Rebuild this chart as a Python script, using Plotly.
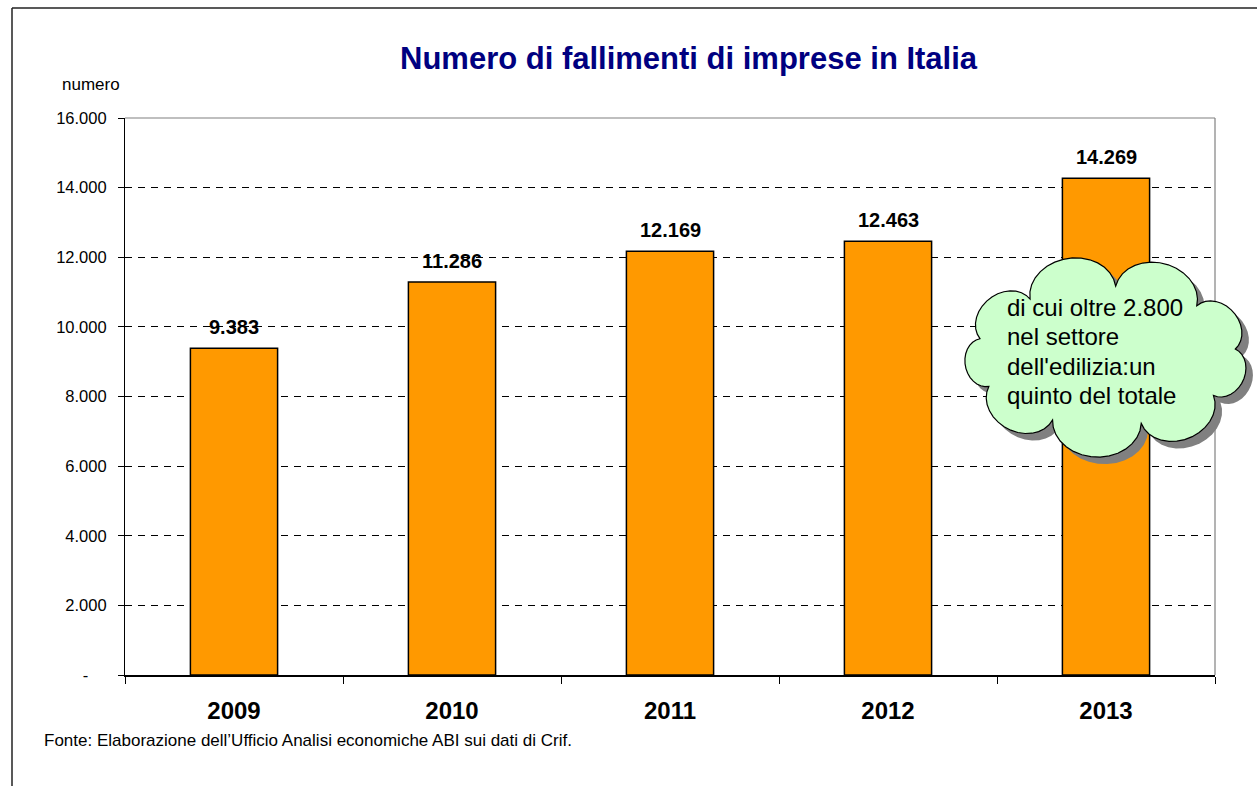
import numpy as np
import plotly.graph_objects as go

# ---- data ----
years = ["2009", "2010", "2011", "2012", "2013"]
fallimenti = [9383, 11286, 12169, 12463, 14269]
value_labels = ["9.383", "11.286", "12.169", "12.463", "14.269"]
tick_vals = [0, 2000, 4000, 6000, 8000, 10000, 12000, 14000, 16000]
tick_text = ["-\u00a0\u00a0\u00a0\u00a0", "2.000", "4.000", "6.000", "8.000",
             "10.000", "12.000", "14.000", "16.000"]
title_text = "Numero di fallimenti di imprese in Italia"
y_title = "numero"
source_text = "Fonte: Elaborazione dell\u2019Ufficio Analisi economiche ABI sui dati di Crif."
cloud_lines = ["di cui oltre 2.800", "nel settore", "dell'edilizia:un", "quinto del totale"]

W, H = 1257, 786
L, R, T, B = 125, 1215, 118, 675
FONT = "Liberation Sans, Arial, sans-serif"


def px2paper(x, y):
    return (x - L) / (R - L), (B - y) / (B - T)


fig = go.Figure()
fig.add_trace(go.Bar(
    x=years, y=fallimenti,
    text=["<b>%s</b>" % s for s in value_labels], textposition="none",
    marker=dict(color="#FF9900", line=dict(color="#000000", width=1.5)),
    width=0.4, hoverinfo="x+y",
))

annotations = []
for i, (v, lab) in enumerate(zip(fallimenti, value_labels)):
    annotations.append(dict(x=i, y=v, xref="x", yref="y", text="<b>%s</b>" % lab,
                            showarrow=False, yanchor="bottom", yshift=8,
                            font=dict(family=FONT, size=20, color="#000000")))

annotations.append(dict(x=px2paper(689, 0)[0], y=px2paper(0, 58)[1], xref="paper", yref="paper",
                        text="<b>%s</b>" % title_text, showarrow=False, xanchor="center", yanchor="middle",
                        font=dict(family=FONT, size=31, color="#000080")))
annotations.append(dict(x=px2paper(60, 0)[0], y=px2paper(0, 84)[1], xref="paper", yref="paper",
                        text=y_title, showarrow=False, xanchor="left", yanchor="middle",
                        font=dict(family=FONT, size=17, color="#000000")))
annotations.append(dict(x=px2paper(42, 0)[0], y=px2paper(0, 740)[1], xref="paper", yref="paper",
                        text=source_text, showarrow=False, xanchor="left", yanchor="middle",
                        font=dict(family=FONT, size=17, color="#000000")))

# ---- cloud callout shape ----
cx, cy = 1106, 356
rx, ry = 130, 70
N = 9
angles = np.linspace(0, 2 * np.pi, N + 1) + 0.1
pts = [(cx + rx * np.cos(a), cy - ry * np.sin(a)) for a in angles]


def cloud_path(dx=0.0, dy=0.0):
    segs = []
    for i in range(N):
        ax_, ay_ = pts[i]
        bx_, by_ = pts[i + 1]
        A = np.array([ax_, -ay_])
        Bp = np.array([bx_, -by_])
        M = (A + Bp) / 2
        d = Bp - A
        c = np.linalg.norm(d)
        n = np.array([d[1], -d[0]]) / c
        for th in np.linspace(0, np.pi, 16):
            p = M + (A - M) * np.cos(th) + n * (c / 2) * 0.8 * np.sin(th)
            segs.append((p[0] + dx, -p[1] + dy))
    s = ""
    for k, (x, y) in enumerate(segs):
        X, Y = px2paper(x, y)
        s += ("M" if k == 0 else "L") + "%.5f,%.5f " % (X, Y)
    return s + "Z"


shapes = []
fx0, fy0 = px2paper(12, 8)
fx1, fy1 = px2paper(W + 5, H + 5)
shapes.append(dict(type="line", xref="paper", yref="paper", x0=fx0, y0=fy0, x1=fx0, y1=fy1,
                   line=dict(color="#222222", width=1.5)))
shapes.append(dict(type="line", xref="paper", yref="paper", x0=fx0, y0=fy0, x1=fx1, y1=fy0,
                   line=dict(color="#222222", width=1.5)))
shapes.append(dict(type="line", xref="paper", yref="paper", x0=0, y0=1, x1=1, y1=1,
                   line=dict(color="#808080", width=1.2)))
shapes.append(dict(type="line", xref="paper", yref="paper", x0=1, y0=0, x1=1, y1=1,
                   line=dict(color="#808080", width=1.2)))
shapes.append(dict(type="path", xref="paper", yref="paper", path=cloud_path(7, 7),
                   fillcolor="#808080", line=dict(width=0), layer="above"))
shapes.append(dict(type="path", xref="paper", yref="paper", path=cloud_path(),
                   fillcolor="#CCFFCC", line=dict(color="#000000", width=1.2), layer="above"))

for i, line in enumerate(cloud_lines):
    lx, ly = px2paper(1005, 307 + i * 29.5)
    annotations.append(dict(x=lx, y=ly, xref="paper", yref="paper", text=line, showarrow=False,
                            xanchor="left", yanchor="middle",
                            font=dict(family=FONT, size=24, color="#000000")))

fig.update_layout(
    width=W, height=H,
    margin=dict(l=L, r=W - R, t=T, b=H - B),
    paper_bgcolor="#FFFFFF", plot_bgcolor="#FFFFFF",
    showlegend=False, bargap=0.6,
    font=dict(family=FONT, color="#000000"),
    annotations=annotations, shapes=shapes,
    xaxis=dict(type="category", range=[-0.5, 4.5], showgrid=False, showline=True,
               linecolor="#000000", linewidth=1.5,
               ticks="outside", ticklen=7, tickcolor="#000000", tickwidth=1, tickson="boundaries",
               tickfont=dict(family=FONT, size=24, color="#000000"), tickangle=0,
               tickprefix="<b>", ticksuffix="</b>", ticklabelstandoff=13,
               fixedrange=True),
    yaxis=dict(range=[0, 16000], tickvals=tick_vals, ticktext=tick_text,
               showgrid=True, gridcolor="#000000", gridwidth=1, griddash="7px,6px",
               showline=True, linecolor="#000000", linewidth=1.2, zeroline=False,
               ticks="outside", ticklen=6, tickcolor="#000000",
               tickfont=dict(family=FONT, size=16.5, color="#000000"), ticklabelstandoff=8,
               fixedrange=True),
)

fig.write_html("out.html")
